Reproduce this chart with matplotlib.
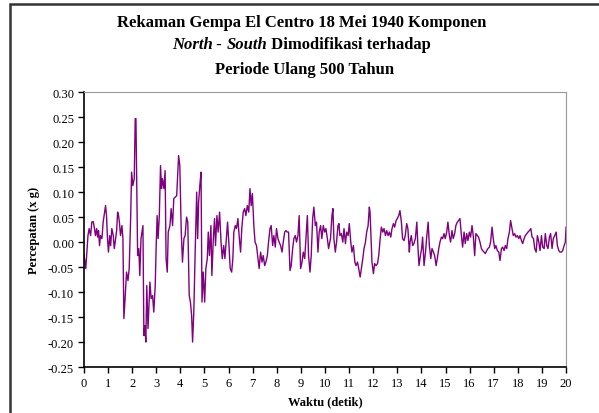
import matplotlib
matplotlib.use("Agg")
import matplotlib.pyplot as plt
from matplotlib.patches import Rectangle

# digitised record (detik, x g)
waktu = [
    0.00, 0.08, 0.17, 0.22, 0.28, 0.33, 0.39, 0.44, 0.48, 0.53, 0.57, 0.61, 0.65, 0.69,
    0.75, 0.80, 0.86, 0.90, 0.94, 0.98, 1.02, 1.07, 1.11, 1.16, 1.22, 1.26, 1.30, 1.36,
    1.40, 1.44, 1.48, 1.52, 1.58, 1.62, 1.66, 1.71, 1.77, 1.83, 1.88, 1.94, 1.98, 2.03,
    2.09, 2.13, 2.16, 2.23, 2.28, 2.32, 2.37, 2.41, 2.45, 2.49, 2.53, 2.57, 2.61, 2.66,
    2.70, 2.74, 2.79, 2.85, 2.90, 2.96, 3.00, 3.04, 3.08, 3.13, 3.18, 3.22, 3.26, 3.32,
    3.37, 3.41, 3.46, 3.50, 3.57, 3.62, 3.68, 3.73, 3.79, 3.85, 3.93, 3.98, 4.04, 4.09,
    4.15, 4.20, 4.26, 4.31, 4.37, 4.42, 4.47, 4.51, 4.56, 4.62, 4.68, 4.72, 4.76, 4.81,
    4.86, 4.90, 4.95, 5.01, 5.06, 5.12, 5.16, 5.21, 5.27, 5.31, 5.37, 5.42, 5.46, 5.52,
    5.57, 5.63, 5.69, 5.74, 5.80, 5.85, 5.91, 5.96, 6.02, 6.07, 6.13, 6.18, 6.22, 6.28,
    6.33, 6.39, 6.44, 6.50, 6.55, 6.61, 6.67, 6.72, 6.78, 6.84, 6.89, 6.94, 6.99, 7.05,
    7.10, 7.16, 7.22, 7.27, 7.33, 7.39, 7.44, 7.50, 7.55, 7.61, 7.66, 7.72, 7.77, 7.83,
    7.88, 7.94, 7.99, 8.05, 8.10, 8.16, 8.22, 8.27, 8.33, 8.38, 8.44, 8.49, 8.55, 8.60,
    8.66, 8.71, 8.77, 8.82, 8.88, 8.93, 8.99, 9.05, 9.10, 9.16, 9.21, 9.27, 9.32, 9.38,
    9.43, 9.49, 9.54, 9.60, 9.65, 9.71, 9.76, 9.82, 9.87, 9.93, 9.99, 10.04, 10.10, 10.15,
    10.23, 10.29, 10.33, 10.37, 10.43, 10.48, 10.54, 10.58, 10.62, 10.68, 10.74, 10.79,
    10.85, 10.90, 10.96, 11.01, 11.07, 11.12, 11.18, 11.24, 11.29, 11.35, 11.40, 11.46,
    11.51, 11.57, 11.62, 11.68, 11.73, 11.79, 11.84, 11.87, 11.91, 11.95, 12.01, 12.06,
    12.12, 12.18, 12.23, 12.29, 12.34, 12.40, 12.45, 12.51, 12.56, 12.62, 12.67, 12.73,
    12.78, 12.84, 12.89, 12.95, 13.00, 13.06, 13.11, 13.17, 13.22, 13.28, 13.33, 13.39,
    13.44, 13.50, 13.53, 13.58, 13.64, 13.69, 13.75, 13.81, 13.86, 13.90, 13.96, 14.01,
    14.05, 14.11, 14.17, 14.22, 14.28, 14.33, 14.39, 14.44, 14.50, 14.55, 14.61, 14.66,
    14.72, 14.77, 14.83, 14.88, 14.94, 14.99, 15.05, 15.10, 15.16, 15.21, 15.27, 15.32,
    15.38, 15.43, 15.49, 15.54, 15.60, 15.66, 15.71, 15.77, 15.82, 15.88, 15.93, 15.99,
    16.04, 16.10, 16.15, 16.21, 16.26, 16.32, 16.37, 16.43, 16.49, 16.54, 16.60, 16.65,
    16.71, 16.76, 16.82, 16.87, 16.93, 16.98, 17.04, 17.09, 17.15, 17.21, 17.26, 17.32,
    17.37, 17.43, 17.48, 17.54, 17.59, 17.65, 17.70, 17.76, 17.81, 17.87, 17.92, 17.98,
    18.04, 18.09, 18.15, 18.20, 18.26, 18.31, 18.37, 18.42, 18.48, 18.54, 18.59, 18.65,
    18.70, 18.76, 18.81, 18.87, 18.92, 18.98, 19.03, 19.09, 19.14, 19.20, 19.25, 19.31,
    19.36, 19.42, 19.47, 19.53, 19.59, 19.64, 19.70, 19.75, 19.81, 19.86, 19.92, 19.97,
    20.00,
]
percepatan = [
    -0.023, -0.053, 0.013, 0.027, 0.013, 0.040, 0.041, 0.027, 0.013, 0.027, 0.010, 0.023, -0.007, 0.013,
    0.007, 0.040, 0.060, 0.073, 0.053, 0.007, -0.020, 0.013, -0.007, 0.027, 0.013, -0.013, 0.000, 0.023,
    0.060, 0.053, 0.037, 0.013, 0.033, 0.007, -0.153, -0.113, -0.060, -0.077, -0.053, 0.047, 0.140, 0.113,
    0.127, 0.247, 0.247, -0.027, -0.013, -0.067, 0.007, 0.020, 0.033, -0.187, -0.167, -0.200, -0.087, -0.173,
    -0.127, -0.080, -0.113, -0.107, -0.140, -0.087, -0.007, 0.053, 0.007, 0.053, 0.153, 0.107, 0.127, 0.107,
    0.143, -0.033, -0.060, 0.020, 0.033, 0.067, 0.033, 0.087, 0.090, 0.093, 0.173, 0.153, 0.020, -0.040,
    0.007, 0.013, 0.050, 0.040, -0.107, -0.120, -0.147, -0.200, -0.140, -0.013, 0.100, 0.007, 0.080, 0.113,
    0.140, -0.120, -0.060, -0.120, -0.053, -0.033, 0.020, -0.027, 0.033, -0.067, 0.007, 0.047, -0.007, 0.053,
    0.020, 0.060, 0.000, -0.033, -0.007, -0.033, 0.007, 0.040, -0.007, -0.053, -0.060, -0.033, 0.020, 0.033,
    0.027, 0.047, 0.013, -0.020, 0.027, 0.060, 0.067, 0.053, 0.073, 0.060, 0.107, 0.073, 0.097, 0.033,
    0.000, -0.007, -0.033, -0.053, -0.020, -0.040, -0.027, -0.047, -0.040, -0.027, 0.000, 0.027, 0.033, -0.007,
    0.013, -0.010, 0.027, 0.007, 0.000, -0.007, -0.020, 0.000, 0.020, 0.023, 0.020, 0.020, -0.057, -0.047,
    -0.013, 0.007, 0.013, 0.000, 0.013, 0.053, -0.053, -0.040, -0.020, -0.033, 0.007, 0.053, -0.027, -0.060,
    -0.027, 0.047, 0.070, 0.033, 0.040, -0.020, 0.020, 0.033, 0.007, 0.033, 0.020, 0.027, 0.007, -0.013,
    0.007, 0.053, 0.067, 0.007, -0.020, 0.000, 0.033, 0.037, 0.013, 0.017, 0.000, 0.027,
    -0.003, 0.020, 0.013, 0.037, 0.000, -0.020, -0.007, -0.040, -0.047, -0.040, -0.053, -0.070,
    -0.053, -0.033, -0.013, 0.000, 0.020, 0.033, 0.070, 0.060, 0.007, -0.040, -0.063, -0.043,
    -0.047, -0.043, -0.027, 0.007, 0.030, 0.020, 0.027, 0.013, 0.023, 0.013, 0.020, 0.010,
    0.027, 0.037, 0.030, 0.043, 0.047, 0.053, 0.063, 0.040, 0.007, 0.003, 0.013, 0.037,
    0.027, -0.020, 0.000, 0.013, -0.007, -0.003, 0.007, 0.040, -0.013, -0.047, -0.027, -0.013,
    0.010, -0.047, -0.020, 0.010, 0.040, -0.007, -0.033, -0.013, -0.020, -0.027, -0.047, -0.033,
    -0.013, 0.000, 0.010, 0.007, 0.017, 0.007, 0.020, 0.040, 0.013, 0.000, 0.023, 0.007,
    0.017, 0.033, 0.040, 0.043, 0.047, 0.013, -0.010, 0.020, -0.003, 0.017, 0.003, 0.020,
    0.010, 0.033, 0.013, -0.027, 0.017, 0.013, 0.010, 0.000, -0.013, -0.017, -0.020, -0.023,
    -0.017, -0.013, -0.010, 0.000, 0.030, 0.007, -0.013, -0.007, -0.017, -0.020, -0.037, -0.013,
    -0.010, -0.017, -0.007, -0.013, 0.007, 0.020, 0.043, 0.027, 0.013, 0.017, 0.010, 0.013,
    0.007, 0.013, 0.003, -0.003, 0.007, 0.013, 0.017, 0.020, 0.023, 0.027, 0.010, 0.007,
    -0.013, -0.020, 0.013, 0.000, -0.017, 0.013, -0.010, -0.013, 0.017, -0.007, -0.013, 0.010,
    0.017, -0.013, 0.007, 0.013, 0.020, -0.007, -0.017, -0.020, -0.020, -0.017, -0.007, 0.000,
    0.030,
]

yticks = [-0.25, -0.20, -0.15, -0.10, -0.05, 0.00, 0.05, 0.10, 0.15, 0.20, 0.25, 0.30]
xticks = list(range(0, 21))

plt.rcParams['font.family'] = ['Liberation Serif', 'DejaVu Serif']

fig = plt.figure(figsize=(5.99, 4.14), dpi=100)
ax = fig.add_axes([0.140, 0.111, 0.805, 0.664])

ax.plot(waktu, percepatan, color='#800080', lw=1.0)
ax.set_xlim(0, 20)
ax.set_ylim(-0.25, 0.30)
ax.set_xticks(xticks)
ax.set_yticks(yticks)
ax.set_yticklabels([f"{v:.2f}" for v in yticks])
ax.tick_params(labelsize=9, length=4, width=1, direction='out', pad=3)

for s in ['top', 'right']:
    ax.spines[s].set_color('#999999')
for s in ['left', 'bottom']:
    ax.spines[s].set_color('black')
    ax.spines[s].set_linewidth(1.2)

ax.set_xlabel('Waktu (detik)', fontsize=9, fontweight='bold', labelpad=5)
ax.set_ylabel('Percepatan (x g)', fontsize=9, fontweight='bold', labelpad=6)

# outer chart frame
fig.patches.append(Rectangle((0.017, -0.1), 1.2, 1.088, transform=fig.transFigure,
                             fill=False, edgecolor='#333333', lw=1.8))

cx = 0.503
fig.text(cx, 0.945, 'Rekaman Gempa El Centro 18 Mei 1940 Komponen',
         ha='center', va='center', fontsize=12, fontweight='bold')
fig.text(cx + 0.005, 0.831, 'Periode Ulang 500 Tahun',
         ha='center', va='center', fontsize=12, fontweight='bold')

# second title line with mixed styles
parts = [('North', 'italic'), (' - ', 'normal'), ('South', 'italic'),
         (' Dimodifikasi terhadap', 'normal')]
fig.canvas.draw()
r = fig.canvas.get_renderer()
texts = []
for s, st in parts:
    t = fig.text(0, 0.891, s, ha='left', va='center', fontsize=12,
                 fontweight='bold', fontstyle=st)
    texts.append(t)
widths = [t.get_window_extent(r).width / fig.bbox.width for t in texts]
x = cx - sum(widths) / 2
for t, w in zip(texts, widths):
    t.set_x(x)
    x += w

fig.savefig('out.png', dpi=100)
